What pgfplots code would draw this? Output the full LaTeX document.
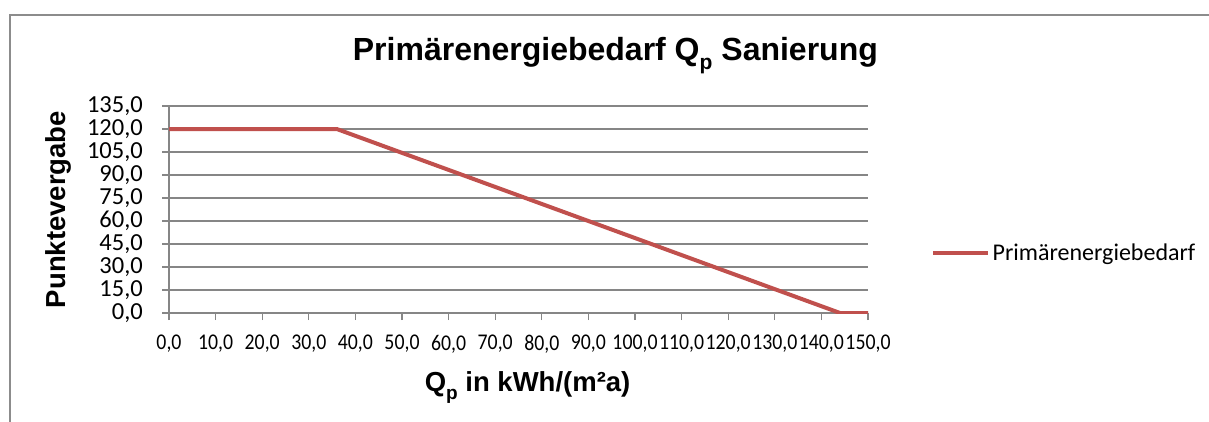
\documentclass[border=0pt]{standalone}
\usepackage{graphicx}
\usepackage{pgfplots}
\pgfplotsset{compat=1.18}
\usepackage{fontspec}
\setmainfont{Liberation Sans}
\newfontfamily\carlito{Carlito}
\definecolor{exred}{HTML}{C0504D}
\definecolor{gridgray}{HTML}{868686}
\definecolor{framegray}{HTML}{8C8C8C}
\newcommand\subp[1]{\raisebox{-0.28em}{\fontsize{#1}{#1}\selectfont p}}
\begin{document}
\begin{tikzpicture}[x=1pt,y=1pt]
\path[use as bounding box, clip] (0,0) rectangle (1209,421);
\draw[framegray, line width=1.5pt] (10,406) rectangle (1260,-40);
\begin{axis}[
  at={(169pt,108pt)}, anchor=south west,
  scale only axis, width=699pt, height=207pt,
  xmin=0, xmax=150, ymin=0, ymax=135,
  xtick={0,10,...,150}, ytick={0,15,...,135},
  axis lines*=left,
  axis line style={gridgray, line width=1.2pt},
  tick style={gridgray, line width=1.2pt},
  tick align=outside, major tick length=7pt,
  ymajorgrids, grid style={gridgray, line width=1.2pt},
  /pgf/number format/assume math mode=true,
  /pgf/number format/.cd, fixed, fixed zerofill, precision=1, use comma, 1000 sep={},
  /pgfplots/.cd,
  xticklabel={\scalebox{0.88}[1]{\pgfmathprintnumber{\tick}}},
  xticklabel style={font=\carlito\fontsize{22.5}{22.5}\selectfont, text=black, inner sep=1pt, yshift=-14pt},
  yticklabel style={font=\carlito\fontsize{24.5}{24.5}\selectfont, text=black, inner sep=1pt, xshift=-18pt},
  xlabel={\bfseries Q\subp{19} in kWh/(m²a)},
  xlabel style={font=\fontsize{27.5}{27.5}\selectfont, at={(axis description cs:0.513,-0.380)}, anchor=base},
  ylabel={\bfseries Punktevergabe},
  ylabel style={font=\fontsize{27.5}{27.5}\selectfont, at={(axis description cs:-0.1588,0.5)}, anchor=center},
  title={\bfseries Primärenergiebedarf Q\subp{21} Sanierung},
  title style={font=\fontsize{32}{32}\selectfont, at={(axis description cs:0.6386,1.19)}, anchor=base},
  legend style={at={(axis description cs:1.090,0.29)}, anchor=west, draw=none, fill=none,
    font=\carlito\fontsize{24}{24}\selectfont, inner sep=0pt},
  legend image code/.code={\draw[#1, line width=4.5pt] (0pt,0pt) -- (55pt,0pt);},
]
\addplot[exred, line width=4pt, line join=round] coordinates {
(0,120) (36,120) (144,0) (150,0)
};
\addlegendentry{Primärenergiebedarf}
\end{axis}
\end{tikzpicture}
\end{document}
